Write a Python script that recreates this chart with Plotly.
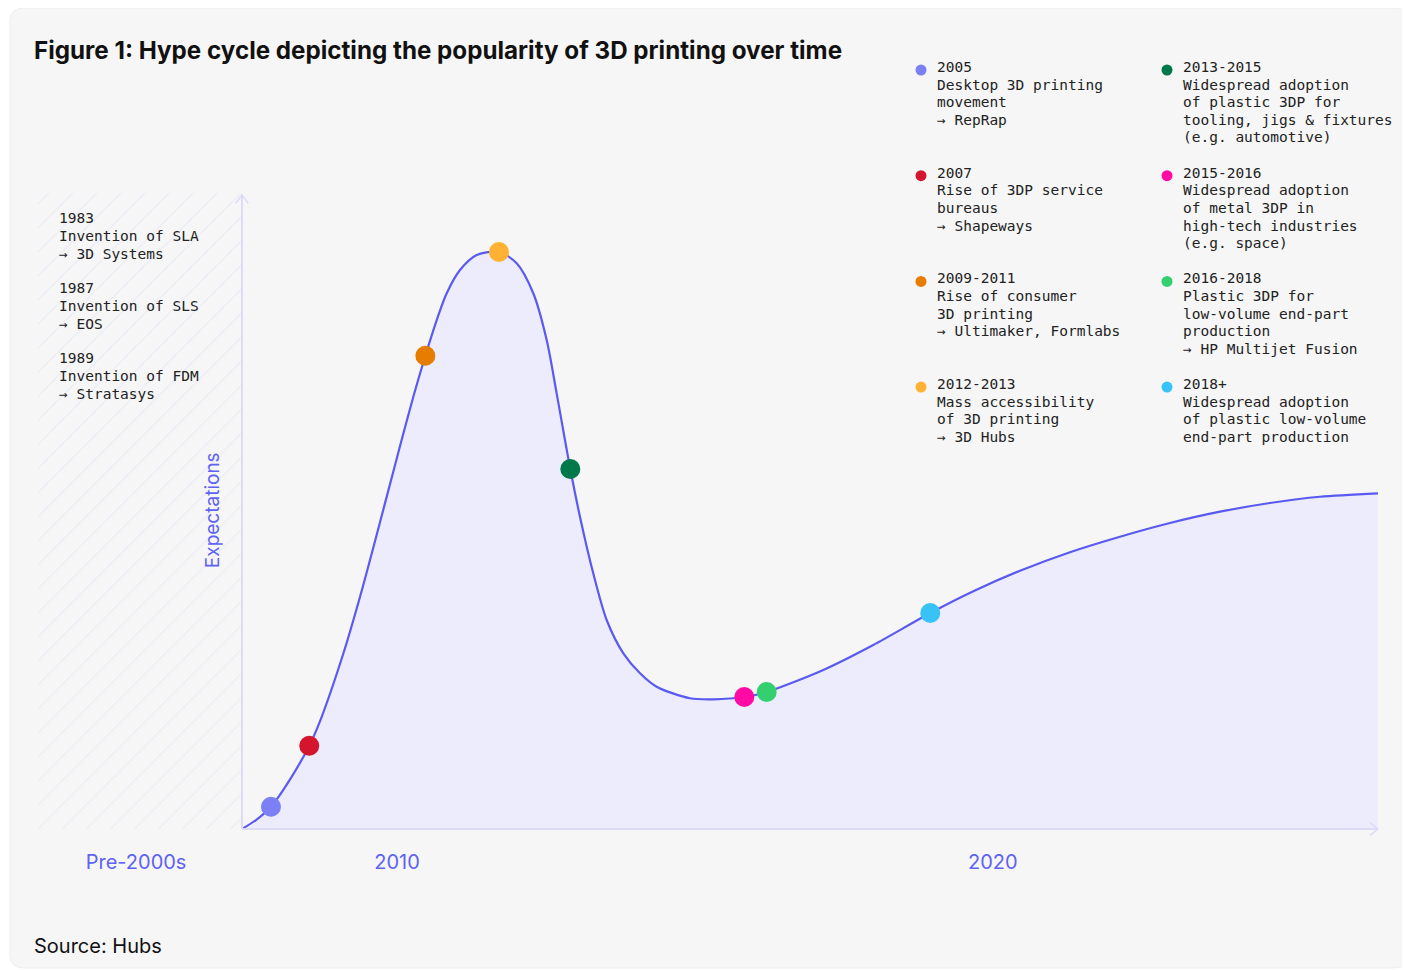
import plotly.graph_objects as go

# ---------------- data ----------------
# hype curve: time progress (0-100) vs expectations (0-100)
curve_x = [0.00, 1.23, 2.55, 4.23, 5.92, 6.87, 8.92, 10.39, 11.56, 12.74, 13.91, 15.08,
           16.14, 17.14, 18.02, 19.19, 20.66, 22.62, 24.18, 25.64, 26.82, 27.70, 28.43,
           28.90, 29.75, 30.92, 32.10, 33.57, 35.04, 36.50, 39.44, 41.49, 44.22, 46.19,
           51.17, 55.57, 60.59, 64.52, 68.49, 72.89, 77.29, 81.69, 86.09, 90.49, 94.89, 100.00]
curve_y = [0.00, 1.42, 3.52, 7.84, 13.14, 17.02, 27.68, 36.64, 44.40, 52.43, 60.41, 68.19,
           74.65, 80.28, 84.50, 88.17, 90.54, 91.01, 89.23, 84.50, 77.13, 68.72, 61.36,
           56.78, 49.26, 40.33, 32.97, 27.71, 24.56, 22.44, 20.62, 20.46, 20.82, 21.61,
           25.08, 29.02, 34.07, 37.62, 40.74, 43.66, 46.10, 48.26, 50.05, 51.42, 52.41, 52.95]

milestone_labels = ["2005", "2007", "2009-2011", "2012-2013",
                    "2013-2015", "2015-2016", "2016-2018", "2018+"]
milestone_desc = [
    ["Desktop 3D printing", "movement", "→ RepRap"],
    ["Rise of 3DP service", "bureaus", "→ Shapeways"],
    ["Rise of consumer", "3D printing", "→ Ultimaker, Formlabs"],
    ["Mass accessibility", "of 3D printing", "→ 3D Hubs"],
    ["Widespread adoption", "of plastic 3DP for", "tooling, jigs & fixtures", "(e.g. automotive)"],
    ["Widespread adoption", "of metal 3DP in", "high-tech industries", "(e.g. space)"],
    ["Plastic 3DP for", "low-volume end-part", "production", "→ HP Multijet Fusion"],
    ["Widespread adoption", "of plastic low-volume", "end-part production"],
]
milestone_colors = ["#7b80f5", "#d3162d", "#e67c00", "#ffb133",
                    "#00794a", "#ff0aa5", "#34d06f", "#38c2f6"]
milestone_x = [2.55, 5.92, 16.14, 22.62, 28.90, 44.22, 46.19, 60.59]
milestone_y = [3.52, 13.14, 74.65, 91.01, 56.78, 20.82, 21.61, 34.07]

pre2000_years = ["1983", "1987", "1989"]
pre2000_desc = [["Invention of SLA", "→ 3D Systems"],
                ["Invention of SLS", "→ EOS"],
                ["Invention of FDM", "→ Stratasys"]]

tick_vals = [-9.33, 13.64, 66.1]
tick_text = ["Pre-2000s", "2010", "2020"]

# ---------------- layout constants ----------------
W, H = 1402, 962          # page body adds an 8px offset
OFF = 8
ML, MR, MT, MB = 30, 20, 172, 129
X_RANGE = [-17.96, 101.06]
Y_RANGE = [-1.89, 102.37]
LINE = "#5a5af0"
FILL = "rgba(236,236,252,1)"
BLUE_TXT = "#5f62f5"
MONO = "DejaVu Sans Mono, Liberation Mono, monospace"
SANS = "Inter, Lato, Noto Sans, sans-serif"


def pxx(px):
    return (px - OFF - ML) / (W - ML - MR)


def pxy(py):
    return (H - MB - (py - OFF)) / (H - MT - MB)


fig = go.Figure()

# hatched pre-2000s zone
fig.add_trace(go.Scatter(
    x=[X_RANGE[0], 0, 0, X_RANGE[0], X_RANGE[0]], y=[0, 0, 100.3, 100.3, 0],
    fill="toself", mode="lines", line=dict(width=0, color="rgba(0,0,0,0)"),
    fillcolor="rgba(0,0,0,0)",
    fillpattern=dict(shape="/", size=17, solidity=0.08, fgcolor="#e2e2f8",
                     bgcolor="rgba(0,0,0,0)"),
    hoverinfo="skip", showlegend=False))

# curve with fill
fig.add_trace(go.Scatter(
    x=curve_x, y=curve_y, mode="lines",
    line=dict(color=LINE, width=2.2, shape="spline", smoothing=0.8),
    fill="tozeroy", fillcolor=FILL, hoverinfo="skip", showlegend=False))

# milestone dots
fig.add_trace(go.Scatter(
    x=milestone_x, y=milestone_y, mode="markers",
    marker=dict(size=20, color=milestone_colors, line=dict(width=0)),
    text=milestone_labels, hoverinfo="text", showlegend=False))

shapes = []
# card background
x0, x1, y0, y1, r = 10, 1408, 8, 968, 14
path = (f"M {pxx(x0 + r)},{pxy(y0)} L {pxx(x1 - r)},{pxy(y0)} Q {pxx(x1)},{pxy(y0)} {pxx(x1)},{pxy(y0 + r)} "
        f"L {pxx(x1)},{pxy(y1 - r)} Q {pxx(x1)},{pxy(y1)} {pxx(x1 - r)},{pxy(y1)} "
        f"L {pxx(x0 + r)},{pxy(y1)} Q {pxx(x0)},{pxy(y1)} {pxx(x0)},{pxy(y1 - r)} "
        f"L {pxx(x0)},{pxy(y0 + r)} Q {pxx(x0)},{pxy(y0)} {pxx(x0 + r)},{pxy(y0)} Z")
shapes.append(dict(type="path", xref="paper", yref="paper", path=path,
                   fillcolor="#f6f6f6", line=dict(color="#eeeeee", width=1), layer="below"))

AX = "#dcdcf7"
# axes lines
shapes.append(dict(type="line", xref="x", yref="y", x0=0, x1=0, y0=0, y1=100,
                   line=dict(color=AX, width=2), layer="above"))
shapes.append(dict(type="line", xref="x", yref="y", x0=0, x1=100, y0=0, y1=0,
                   line=dict(color=AX, width=2), layer="above"))
# arrow heads
shapes.append(dict(type="path", xref="x", yref="y",
                   path="M -0.55,98.7 L 0,100 L 0.55,98.7",
                   line=dict(color=AX, width=1.5)))
shapes.append(dict(type="path", xref="x", yref="y",
                   path="M 99.3,1.0 L 100,0 L 99.3,-1.0",
                   line=dict(color=AX, width=1.5)))

annotations = []
# title
annotations.append(dict(text="<b>Figure 1: Hype cycle depicting the popularity of 3D printing over time</b>",
                        xref="paper", yref="paper", x=pxx(32), y=pxy(50), xanchor="left", yanchor="middle",
                        showarrow=False, font=dict(family=SANS, size=24.2, color="#111111")))
# source
annotations.append(dict(text="Source: Hubs", xref="paper", yref="paper", x=pxx(32), y=pxy(946),
                        xanchor="left", yanchor="middle", showarrow=False,
                        font=dict(family=SANS, size=20, color="#111111")))
# y label
annotations.append(dict(text="Expectations", xref="x", yref="y", x=-2.64, y=50.3, textangle=-90,
                        xanchor="center", yanchor="middle", showarrow=False,
                        font=dict(family=SANS, size=19, color=BLUE_TXT)))

LH = 17.6
# legend blocks
for i, (lab, desc, col) in enumerate(zip(milestone_labels, milestone_desc, milestone_colors)):
    colx = 936 if i < 4 else 1182
    top = 67 + (i % 4) * 105.7
    shapes.append(dict(type="circle", xref="paper", yref="paper",
                       x0=pxx(colx - 20.5), x1=pxx(colx - 9.5), y0=pxy(top - 2.5), y1=pxy(top + 8.5),
                       fillcolor=col, line=dict(width=0)))
    for j, t in enumerate([lab] + desc):
        annotations.append(dict(text=t, xref="paper", yref="paper", x=pxx(colx - 1.5), y=pxy(top + j * LH),
                                xanchor="left", yanchor="middle", showarrow=False,
                                font=dict(family=MONO, size=14.5, color="#222222")))

# pre-2000s text
for i, (yr, desc) in enumerate(zip(pre2000_years, pre2000_desc)):
    top = 218 + i * 70
    for j, t in enumerate([yr] + desc):
        annotations.append(dict(text=t, xref="paper", yref="paper", x=pxx(56.5), y=pxy(top + j * 18),
                                xanchor="left", yanchor="middle", showarrow=False,
                                font=dict(family=MONO, size=14.5, color="#222222")))

fig.update_layout(
    width=W, height=H, margin=dict(l=ML, r=MR, t=MT, b=MB, autoexpand=False),
    paper_bgcolor="white", plot_bgcolor="rgba(0,0,0,0)",
    shapes=shapes, annotations=annotations, showlegend=False,
    xaxis=dict(range=X_RANGE, showgrid=False, zeroline=False, showline=False, ticks="",
               tickvals=tick_vals, ticktext=tick_text, ticklabelstandoff=7,
               tickfont=dict(family=SANS, size=20, color=BLUE_TXT), fixedrange=True),
    yaxis=dict(range=Y_RANGE, showgrid=False, zeroline=False, showline=False,
               showticklabels=False, ticks="", fixedrange=True),
)

fig.write_html("out.html", config={"displayModeBar": False})
